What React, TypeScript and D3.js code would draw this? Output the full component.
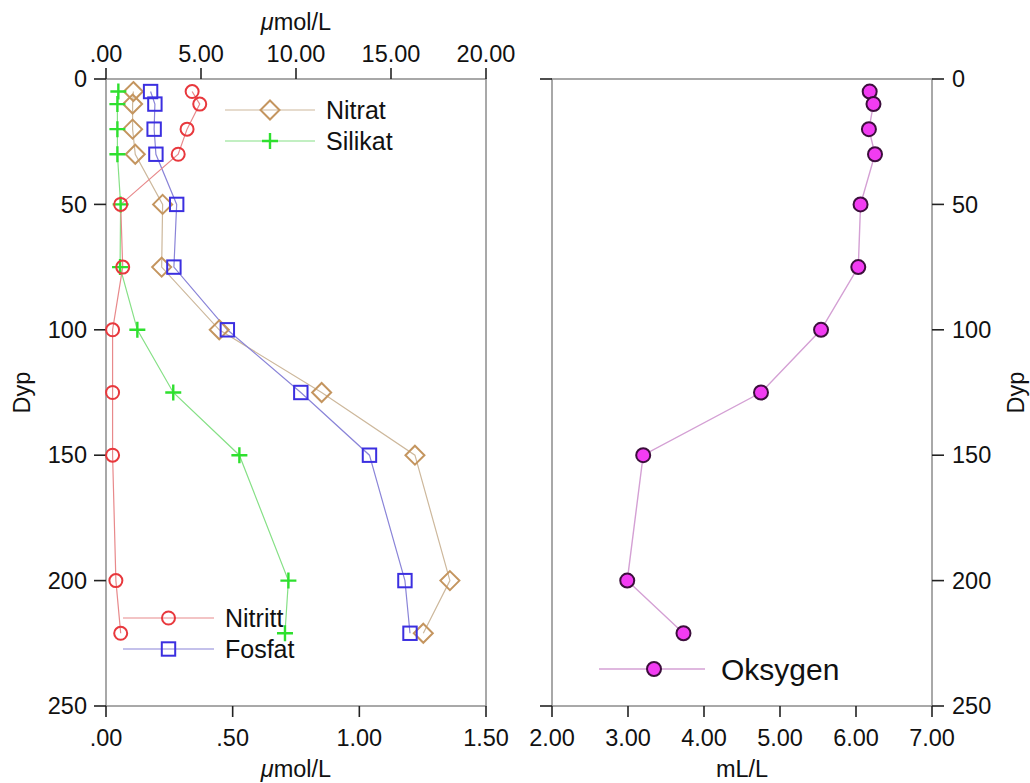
import React from "react";
import * as d3 from "d3";

// ---- data ----
const depths = [5, 10, 20, 30, 50, 75, 100, 125, 150, 200, 221];
const nitritt = [0.34, 0.37, 0.32, 0.285, 0.058, 0.066, 0.026, 0.026, 0.026, 0.039, 0.058];
const fosfat = [0.176, 0.193, 0.19, 0.197, 0.279, 0.268, 0.479, 0.769, 1.04, 1.18, 1.2];
const nitrat = [1.44, 1.4, 1.4, 1.54, 2.98, 2.93, 5.96, 11.35, 16.26, 18.1, 16.7];
const silikat = [0.65, 0.6, 0.6, 0.6, 0.77, 0.74, 1.65, 3.54, 7.02, 9.6, 9.42];
const oksygen = [6.18, 6.23, 6.17, 6.25, 6.06, 6.03, 5.54, 4.75, 3.2, 2.99, 3.73];

const depthTicks = [0, 50, 100, 150, 200, 250];
const depthLabels = ["0", "50", "100", "150", "200", "250"];
const topTicks = [0, 5, 10, 15, 20];
const topLabels = [".00", "5.00", "10.00", "15.00", "20.00"];
const botTicks = [0, 0.5, 1, 1.5];
const botLabels = [".00", ".50", "1.00", "1.50"];
const oxTicks = [2, 3, 4, 5, 6, 7];
const oxLabels = ["2.00", "3.00", "4.00", "5.00", "6.00", "7.00"];

const FONT = "'Liberation Sans', Arial, Helvetica, sans-serif";
const FRAME = "#8c8c8c";
const TICK = "#222";

const C = {
  nitritt: { m: "#e8383d", l: "#e8898b" },
  fosfat: { m: "#3b2fe0", l: "#8a84d8" },
  nitrat: { m: "#c4955f", l: "#cdb89c" },
  silikat: { m: "#2ee02e", l: "#86e086" },
  oks: { m: "#f23cf2", s: "#3c0f3c", l: "#d4a0d4" },
};

type Kind = "circle" | "square" | "diamond" | "plus" | "dot";

function Marker({ kind, x, y, color }: { kind: Kind; x: number; y: number; color: string }) {
  if (kind === "circle") return <circle cx={x} cy={y} r={6.5} fill="none" stroke={color} strokeWidth={2} />;
  if (kind === "square") return <rect x={x - 6.7} y={y - 6.7} width={13.4} height={13.4} fill="none" stroke={color} strokeWidth={2} />;
  if (kind === "diamond")
    return <path d={`M${x},${y - 9.5}L${x + 9.5},${y}L${x},${y + 9.5}L${x - 9.5},${y}Z`} fill="none" stroke={color} strokeWidth={2} />;
  if (kind === "plus")
    return <path d={`M${x - 8},${y}H${x + 8}M${x},${y - 8}V${y + 8}`} stroke={color} strokeWidth={2.4} />;
  return <circle cx={x} cy={y} r={7} fill={C.oks.m} stroke={C.oks.s} strokeWidth={2} />;
}

export default function App() {
  const y = d3.scaleLinear().domain([0, 250]).range([79, 706]);
  const xTop = d3.scaleLinear().domain([0, 20]).range([106, 486]);
  const xBot = d3.scaleLinear().domain([0, 1.5]).range([106, 486]);
  const xOx = d3.scaleLinear().domain([2, 7]).range([552, 932]);

  const series = [
    { vals: nitrat, x: xTop, kind: "diamond" as Kind, col: C.nitrat },
    { vals: fosfat, x: xBot, kind: "square" as Kind, col: C.fosfat },
    { vals: silikat, x: xTop, kind: "plus" as Kind, col: C.silikat },
    { vals: nitritt, x: xBot, kind: "circle" as Kind, col: C.nitritt },
  ];

  const lineOf = (vals: number[], xs: d3.ScaleLinear<number, number>) =>
    d3
      .line<number>()
      .x((v) => xs(v))
      .y((_, i) => y(depths[i]))(vals) || "";

  const [L0, L1] = xTop.range();
  const [R0, R1] = xOx.range();
  const [T, B] = y.range();

  const legendItem = (
    lx0: number,
    lx1: number,
    ly: number,
    kind: Kind,
    col: { m: string; l: string },
    label: string,
    tx: number,
    fs: number
  ) => (
    <g key={label}>
      <line x1={lx0} x2={lx1} y1={ly} y2={ly} stroke={col.l} strokeWidth={1.2} />
      <Marker kind={kind} x={(lx0 + lx1) / 2} y={ly} color={col.m} />
      <text x={tx} y={ly} dy="0.35em" fontSize={fs} fill="#111">
        {label}
      </text>
    </g>
  );

  return (
    <svg
      width={1030}
      height={783}
      style={{ position: "absolute", left: 0, top: 0, background: "#fff" }}
      fontFamily={FONT}
    >
      {/* ---------- Left panel ---------- */}
      <rect x={L0} y={T} width={L1 - L0} height={B - T} fill="none" stroke={FRAME} strokeWidth={1.5} />
      {/* left y axis */}
      {depthTicks.map((d, i) => (
        <g key={"ly" + d}>
          <line x1={L0 - 12} x2={L0} y1={y(d)} y2={y(d)} stroke={TICK} strokeWidth={1.6} />
          <text x={L0 - 19} y={y(d)} dy="0.35em" textAnchor="end" fontSize={23.5} fill="#111">
            {depthLabels[i]}
          </text>
        </g>
      ))}
      <text transform={`translate(22,${(T + B) / 2}) rotate(-90)`} textAnchor="middle" dy="0.35em" fontSize={23.5} fill="#111">
        Dyp
      </text>
      {/* top axis */}
      {topTicks.map((t, i) => (
        <g key={"tx" + t}>
          <line x1={xTop(t)} x2={xTop(t)} y1={T - 11} y2={T} stroke={TICK} strokeWidth={1.6} />
          <text x={xTop(t)} y={62} textAnchor="middle" fontSize={23.5} fill="#111">
            {topLabels[i]}
          </text>
        </g>
      ))}
      <text x={(L0 + L1) / 2} y={30} textAnchor="middle" fontSize={23.5} fill="#111">
        <tspan fontStyle="italic">μ</tspan>mol/L
      </text>
      {/* bottom axis */}
      {botTicks.map((t, i) => (
        <g key={"bx" + t}>
          <line x1={xBot(t)} x2={xBot(t)} y1={B} y2={B + 11} stroke={TICK} strokeWidth={1.6} />
          <text x={xBot(t)} y={746} textAnchor="middle" fontSize={23.5} fill="#111">
            {botLabels[i]}
          </text>
        </g>
      ))}
      <text x={(L0 + L1) / 2} y={777} textAnchor="middle" fontSize={23.5} fill="#111">
        <tspan fontStyle="italic">μ</tspan>mol/L
      </text>

      {series.map((s, k) => (
        <path key={"l" + k} d={lineOf(s.vals, s.x)} fill="none" stroke={s.col.l} strokeWidth={1.2} />
      ))}
      {series.map((s, k) => (
        <g key={"m" + k}>
          {s.vals.map((v, i) => (
            <Marker key={i} kind={s.kind} x={s.x(v)} y={y(depths[i])} color={s.col.m} />
          ))}
        </g>
      ))}

      {legendItem(225, 315, 110, "diamond", C.nitrat, "Nitrat", 326, 25)}
      {legendItem(225, 315, 141, "plus", C.silikat, "Silikat", 326, 25)}
      {legendItem(123, 214, 618, "circle", C.nitritt, "Nitritt", 225, 25)}
      {legendItem(123, 214, 649, "square", C.fosfat, "Fosfat", 225, 25)}

      {/* ---------- Right panel ---------- */}
      <rect x={R0} y={T} width={R1 - R0} height={B - T} fill="none" stroke={FRAME} strokeWidth={1.5} />
      {[0, 250].map((d) => (
        <line key={"rl" + d} x1={R0 - 12} x2={R0} y1={y(d)} y2={y(d)} stroke={TICK} strokeWidth={1.6} />
      ))}
      {depthTicks.map((d, i) => (
        <g key={"ry" + d}>
          <line x1={R1} x2={R1 + 12} y1={y(d)} y2={y(d)} stroke={TICK} strokeWidth={1.6} />
          <text x={R1 + 20} y={y(d)} dy="0.35em" textAnchor="start" fontSize={23.5} fill="#111">
            {depthLabels[i]}
          </text>
        </g>
      ))}
      <text transform={`translate(1016,${(T + B) / 2}) rotate(-90)`} textAnchor="middle" dy="0.35em" fontSize={23.5} fill="#111">
        Dyp
      </text>
      {oxTicks.map((t, i) => (
        <g key={"ox" + t}>
          <line x1={xOx(t)} x2={xOx(t)} y1={B} y2={B + 11} stroke={TICK} strokeWidth={1.6} />
          <text x={xOx(t)} y={746} textAnchor="middle" fontSize={23.5} fill="#111">
            {oxLabels[i]}
          </text>
        </g>
      ))}
      <text x={(R0 + R1) / 2} y={777} textAnchor="middle" fontSize={23.5} fill="#111">
        mL/L
      </text>
      <path d={lineOf(oksygen, xOx)} fill="none" stroke={C.oks.l} strokeWidth={1.4} />
      {oksygen.map((v, i) => (
        <Marker key={"o" + i} kind="dot" x={xOx(v)} y={y(depths[i])} color={C.oks.m} />
      ))}
      <line x1={599} x2={705} y1={669} y2={669} stroke={C.oks.l} strokeWidth={1.4} />
      <Marker kind="dot" x={654} y={669} color={C.oks.m} />
      <text x={721} y={669} dy="0.35em" fontSize={30} fill="#111">
        Oksygen
      </text>
    </svg>
  );
}
